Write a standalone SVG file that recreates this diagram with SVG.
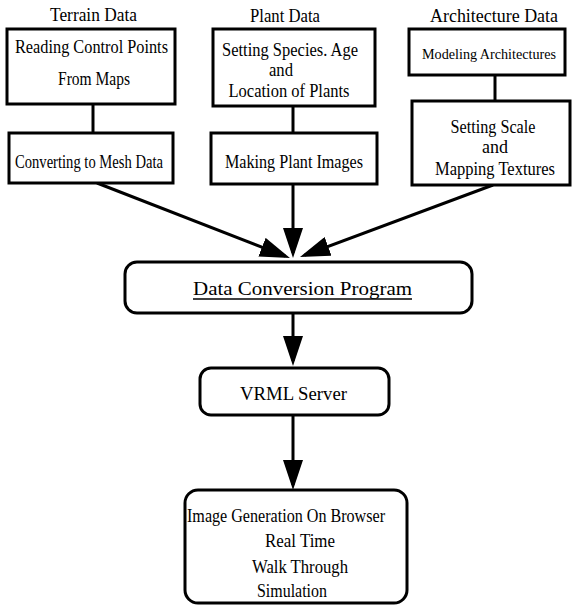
<svg xmlns="http://www.w3.org/2000/svg" width="576" height="614" viewBox="0 0 576 614">
<style>
.box{fill:#fff;stroke:#000;stroke-width:3}
.t{font-family:"Liberation Serif","Times New Roman",serif;font-size:18px;fill:#000;text-anchor:middle}
.l{font-size:19px}
.c{fill:none;stroke:#000;stroke-width:3}
</style>
<defs>
<marker id="ah" viewBox="0 0 30 20" refX="25" refY="10" markerWidth="30" markerHeight="20" markerUnits="userSpaceOnUse" orient="auto">
<path d="M0,0 L30,10 L0,20 Z" fill="#000"/>
</marker>
</defs>
<rect width="576" height="614" fill="#fff"/>
<g id="labels">
<text class="t l" x="93.5" y="21" textLength="87" lengthAdjust="spacingAndGlyphs">Terrain Data</text>
<text class="t l" x="285" y="22" textLength="70" lengthAdjust="spacingAndGlyphs">Plant Data</text>
<text class="t l" x="494" y="22" textLength="128" lengthAdjust="spacingAndGlyphs">Architecture Data</text>
</g>
<g id="connectors">
<line class="c" x1="93" y1="104" x2="93" y2="133"/>
<line class="c" x1="293" y1="106" x2="293" y2="133"/>
<line class="c" x1="495" y1="75" x2="495" y2="101"/>
<line class="c" x1="97" y1="183" x2="285.3" y2="256.2" marker-end="url(#ah)"/>
<line class="c" x1="293" y1="184" x2="293" y2="253" marker-end="url(#ah)"/>
<line class="c" x1="493" y1="185" x2="304.7" y2="255.2" marker-end="url(#ah)"/>
<line class="c" x1="293" y1="313" x2="293" y2="361" marker-end="url(#ah)"/>
<line class="c" x1="293" y1="415" x2="293" y2="485" marker-end="url(#ah)"/>
</g>
<g id="reading">
<rect class="box" x="7" y="29" width="168" height="75"/>
<text class="t" x="91.5" y="53" textLength="153" lengthAdjust="spacingAndGlyphs">Reading Control Points</text>
<text class="t" x="94" y="85" textLength="72" lengthAdjust="spacingAndGlyphs">From Maps</text>
</g>
<g id="converting">
<rect class="box" x="9" y="133" width="164" height="50"/>
<text class="t" x="89" y="168" textLength="148" lengthAdjust="spacingAndGlyphs">Converting to Mesh Data</text>
</g>
<g id="setting-species">
<rect class="box" x="213" y="29" width="162" height="77"/>
<text class="t" x="290" y="56" textLength="136" lengthAdjust="spacingAndGlyphs">Setting Species. Age</text>
<text class="t" x="281" y="76" textLength="24" lengthAdjust="spacingAndGlyphs">and</text>
<text class="t" x="289" y="97" textLength="121" lengthAdjust="spacingAndGlyphs">Location of Plants</text>
</g>
<g id="making-plant">
<rect class="box" x="211" y="133" width="166" height="51"/>
<text class="t" x="294" y="168" textLength="138" lengthAdjust="spacingAndGlyphs">Making Plant Images</text>
</g>
<g id="modeling">
<rect class="box" x="409" y="29" width="156" height="46"/>
<text class="t" x="489" y="59" font-size="15.5" textLength="134" lengthAdjust="spacingAndGlyphs" style="font-size:15.5px">Modeling Architectures</text>
</g>
<g id="setting-scale">
<rect class="box" x="412" y="101" width="158" height="84"/>
<text class="t" x="493" y="133" textLength="85" lengthAdjust="spacingAndGlyphs">Setting Scale</text>
<text class="t" x="495" y="153" textLength="26" lengthAdjust="spacingAndGlyphs">and</text>
<text class="t" x="495" y="175" textLength="120" lengthAdjust="spacingAndGlyphs">Mapping Textures</text>
</g>
<g id="data-conversion">
<rect class="box" x="125" y="262" width="347" height="51" rx="12"/>
<text class="t l" x="302.5" y="295" textLength="219" lengthAdjust="spacingAndGlyphs">Data Conversion Program</text>
<line x1="193" y1="299" x2="412" y2="299" stroke="#000" stroke-width="1.5"/>
</g>
<g id="vrml-server">
<rect class="box" x="200" y="368" width="189" height="47" rx="11"/>
<text class="t l" x="293.5" y="400" textLength="107" lengthAdjust="spacingAndGlyphs">VRML Server</text>
</g>
<g id="image-generation">
<rect class="box" x="185" y="490" width="222" height="113" rx="13"/>
<text class="t" x="286" y="522" textLength="198" lengthAdjust="spacingAndGlyphs">Image Generation On Browser</text>
<text class="t" x="300" y="547" textLength="70" lengthAdjust="spacingAndGlyphs">Real Time</text>
<text class="t" x="300" y="573" textLength="96" lengthAdjust="spacingAndGlyphs">Walk Through</text>
<text class="t" x="292" y="597" textLength="70" lengthAdjust="spacingAndGlyphs">Simulation</text>
</g>
</svg>
